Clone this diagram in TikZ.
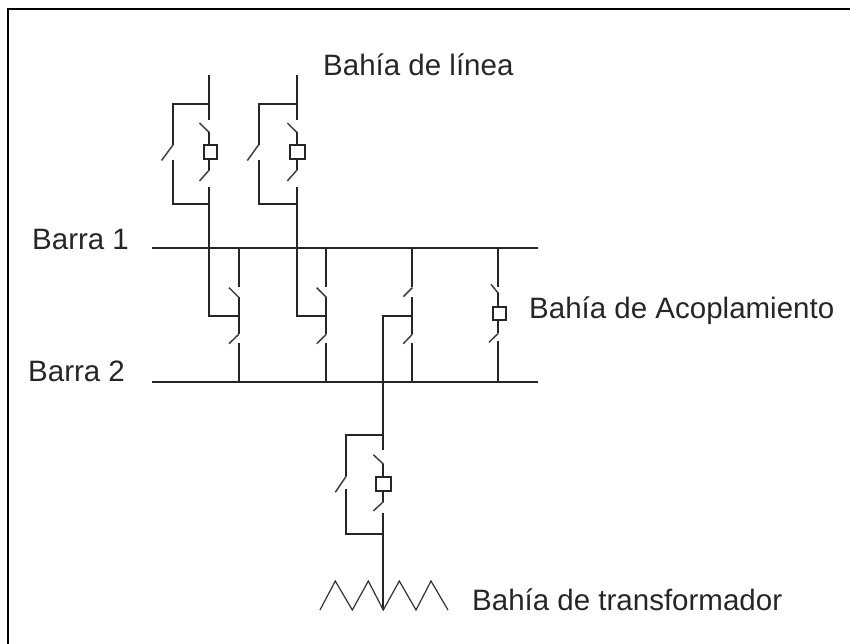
\documentclass[tikz,border=0pt]{standalone}
\usepackage{fontspec}
\setmainfont{Liberation Sans}
\tikzset{
  wire/.style={line width=2pt,black!85,line join=miter},
  blade/.style={line width=1.5pt,black!75},
  thin wire/.style={line width=1.2pt,black!80},
  frameline/.style={line width=2pt,black},
  lbl/.style={anchor=base west,inner sep=0pt,font=\fontsize{29.5}{32}\selectfont,text=black!85}
}
% #1 x main, #2 x bypass, #3 blade end bypass, #4 box left, #5 box right, #6 y offset, #7 blade x
\newcommand{\feederbay}[7]{
  \begin{scope}[yshift=-#6pt]
    \draw[wire] (#1,75) -- (#1,120);
    \draw[wire] (#1,104.5) -- (#2,104.5) -- (#2,145);
    \draw[blade] (#2,145) -- (#3,160.5);
    \draw[wire] (#2,160) -- (#2,204) -- (#1,204);
    \draw[wire] (#1,187) -- (#1,248.3);
    \draw[blade] (#7,123) -- (#1,132.5);
    \draw[wire] (#1,132.5) -- (#1,145);
    \draw[wire] (#4,145) rectangle (#5,158.7);
    \draw[wire] (#1,158.7) -- (#1,170);
    \draw[blade] (#1,170) -- (#7,181);
  \end{scope}
}
\newcommand{\couplerleg}[2]{
  \draw[wire] (#1,248.3) -- (#1,286.7);
  \draw[wire] (#1,297.3) -- (#1,334.3);
  \draw[blade] (#1,334.3) -- (#2,343.7);
  \draw[wire] (#1,342.7) -- (#1,381.7);
}
\begin{document}
\begin{tikzpicture}[x=1pt,y=-1pt]
\useasboundingbox (0,0) rectangle (850,644);
\draw[frameline] (850,9) -- (8,9) -- (8,644);
\feederbay{209.3}{173}{161.5}{203.5}{217}{0}{199.5}
\feederbay{297}{258.5}{247.3}{289.7}{304.7}{0}{287.3}
% buses
\draw[wire] (152,248.3) -- (538,248.3);
\draw[wire] (152,381.7) -- (538,381.7);
% section 1
\couplerleg{238.7}{229}
\draw[blade] (229,287.7) -- (238.7,297.3);
\draw[wire] (209.3,248.3) -- (209.3,316) -- (238.7,316);
% section 2
\couplerleg{326.3}{316.7}
\draw[blade] (316.7,287.7) -- (326.3,297.3);
\draw[wire] (297,248.3) -- (297,316) -- (326.3,316);
% section 3
\couplerleg{412.3}{403.3}
\draw[blade] (412.3,287.7) -- (403.3,296.7);
\draw[wire] (412.3,316) -- (383.3,316) -- (383.3,450);
% coupler
\draw[wire] (498.3,248.3) -- (498.3,286.7);
\draw[blade] (491,284.3) -- (498.3,293.3);
\draw[wire] (498.3,293.3) -- (498.3,306.7);
\draw[wire] (493,306.7) rectangle (506.3,320);
\draw[wire] (498.3,320) -- (498.3,333.3);
\draw[blade] (498.3,333.3) -- (489,342.3);
\draw[wire] (498.3,341) -- (498.3,381.7);
% transformer bay
\draw[wire] (383.3,435) -- (346.3,435) -- (346.3,476);
\draw[blade] (346.3,476) -- (335.3,492.3);
\draw[wire] (346.3,489.3) -- (346.3,534.3) -- (383.3,534.3);
\draw[blade] (373.3,454.7) -- (383.3,464);
\draw[wire] (383.3,464) -- (383.3,477.3);
\draw[wire] (375.7,477.3) rectangle (391,490.7);
\draw[wire] (383.3,490.7) -- (383.3,501.7);
\draw[blade] (383.3,501.7) -- (373.3,511);
\draw[wire] (383.3,513.3) -- (383.3,609.5);
\draw[thin wire] (320,610) -- (335.3,581) -- (352.3,610) -- (368.3,581) -- (383.3,610) -- (399.3,581) -- (416,610) -- (431,581) -- (448,610);
\node[lbl] (linea) at (323,76) {Bahía de línea};
\node[lbl] (barra1) at (32,249) {Barra 1};
\node[lbl] (barra2) at (28,381) {Barra 2};
\node[lbl] (acopl) at (529,318) {Bahía de Acoplamiento};
\node[lbl] (trafo) at (472,610) {Bahía de transformador};
\end{tikzpicture}
\end{document}
